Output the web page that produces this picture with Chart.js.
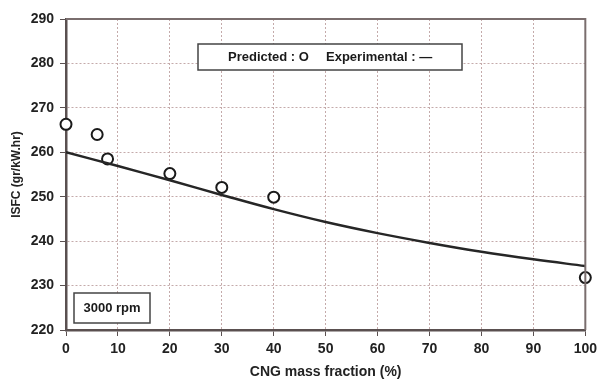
<!DOCTYPE html>
<html>
<head>
<meta charset="utf-8">
<script src="https://cdn.jsdelivr.net/npm/chart.js@4/dist/chart.umd.min.js"></script>
<style>
  html, body { margin: 0; padding: 0; background: #fff; }
  #wrap { width: 602px; height: 385px; }
</style>
</head>
<body>
<div id="wrap"><canvas id="chart" width="602" height="385"></canvas></div>
<script>
// predicted points (circles)
const predictedX = [0, 6, 8, 20, 30, 40, 100];
const predictedY = [266.3, 264.0, 258.5, 255.2, 252.1, 249.9, 231.8];

// experimental curve (solid line)
const experimentalX = [0, 10, 20, 30, 40, 50, 60, 70, 80, 90, 100];
const experimentalY = [260.0, 256.9, 253.7, 250.4, 247.2, 244.3, 241.8, 239.6, 237.6, 235.9, 234.4];

const xTicks = [0, 10, 20, 30, 40, 50, 60, 70, 80, 90, 100];
const yTicks = [220, 230, 240, 250, 260, 270, 280, 290];

const FONT = "'Liberation Sans', Arial, sans-serif";

// boxes with text drawn on the plot (legend-like box and rpm label)
const boxPlugin = {
    id: 'boxes',
    afterDraw(chart) {
        const ctx = chart.ctx;
        const a = chart.chartArea;
        ctx.save();
        ctx.setLineDash([]);
        // frame round the plot
        ctx.strokeStyle = '#7a6e6e';
        ctx.lineWidth = 2;
        ctx.beginPath();
        ctx.moveTo(a.left, a.top);
        ctx.lineTo(a.right, a.top);
        ctx.lineTo(a.right, a.bottom);
        ctx.stroke();

        // legend box
        ctx.fillStyle = '#fff';
        ctx.fillRect(198, 44, 264, 26);
        ctx.strokeStyle = '#444';
        ctx.lineWidth = 1.5;
        ctx.strokeRect(198, 44, 264, 26);
        ctx.fillStyle = '#1a1a1a';
        ctx.font = 'bold 13px ' + FONT;
        ctx.textBaseline = 'middle';
        ctx.textAlign = 'left';
        ctx.fillText('Predicted : O', 228, 57);
        ctx.fillText('Experimental : \u2014', 326, 57);

        // rpm box
        ctx.fillStyle = '#fff';
        ctx.fillRect(74, 293, 76, 30);
        ctx.strokeStyle = '#444';
        ctx.strokeRect(74, 293, 76, 30);
        ctx.fillStyle = '#1a1a1a';
        ctx.textAlign = 'center';
        ctx.fillText('3000 rpm', 112, 308);
        ctx.restore();
    }
};

const ctx = document.getElementById('chart').getContext('2d');
new Chart(ctx, {
    type: 'scatter',
    data: {
        datasets: [{
            label: 'Experimental',
            data: experimentalX.map((x, i) => ({ x: x, y: experimentalY[i] })),
            showLine: true,
            borderColor: '#262626',
            borderWidth: 2.5,
            pointRadius: 0,
            tension: 0.4,
            fill: false
        }, {
            label: 'Predicted',
            data: predictedX.map((x, i) => ({ x: x, y: predictedY[i] })),
            showLine: false,
            pointRadius: 5.5,
            pointBorderWidth: 2,
            pointBorderColor: '#1a1a1a',
            pointBackgroundColor: '#fff',
            clip: false
        }]
    },
    options: {
        responsive: false,
        animation: false,
        layout: { padding: { top: 19, right: 13, left: 0, bottom: 0 } },
        plugins: {
            legend: { display: false },
            tooltip: { enabled: false }
        },
        scales: {
            x: {
                type: 'linear',
                min: 0,
                max: 100,
                afterBuildTicks: scale => { scale.ticks = xTicks.map(v => ({ value: v })); },
                afterFit: scale => { scale.height = 55; },
                ticks: {
                    color: '#222',
                    font: { family: FONT, size: 14, weight: 'bold' },
                    padding: 5,
                    maxRotation: 0
                },
                grid: {
                    color: '#c4aaaa',
                    tickColor: '#5a5050',
                    tickBorderDash: [],
                    tickLength: 6
                },
                border: { color: '#5a5050', width: 2.5, dash: [2, 2] },
                title: {
                    display: true,
                    text: 'CNG mass fraction (%)',
                    color: '#222',
                    font: { family: FONT, size: 14, weight: 'bold' },
                    padding: { top: 0, bottom: 4 }
                }
            },
            y: {
                type: 'linear',
                min: 220,
                max: 290,
                afterBuildTicks: scale => { scale.ticks = yTicks.map(v => ({ value: v })); },
                afterFit: scale => { scale.width = 66; },
                ticks: {
                    color: '#222',
                    font: { family: FONT, size: 14, weight: 'bold' },
                    padding: 6
                },
                grid: {
                    color: '#c4aaaa',
                    tickColor: '#5a5050',
                    tickBorderDash: [],
                    tickLength: 6
                },
                border: { color: '#5a5050', width: 2.5, dash: [2, 2] },
                title: {
                    display: true,
                    text: 'ISFC (gr/kW.hr)',
                    color: '#222',
                    font: { family: FONT, size: 12, weight: 'bold' },
                    padding: { top: 9, bottom: 0 }
                }
            }
        }
    },
    plugins: [boxPlugin]
});
</script>
</body>
</html>
